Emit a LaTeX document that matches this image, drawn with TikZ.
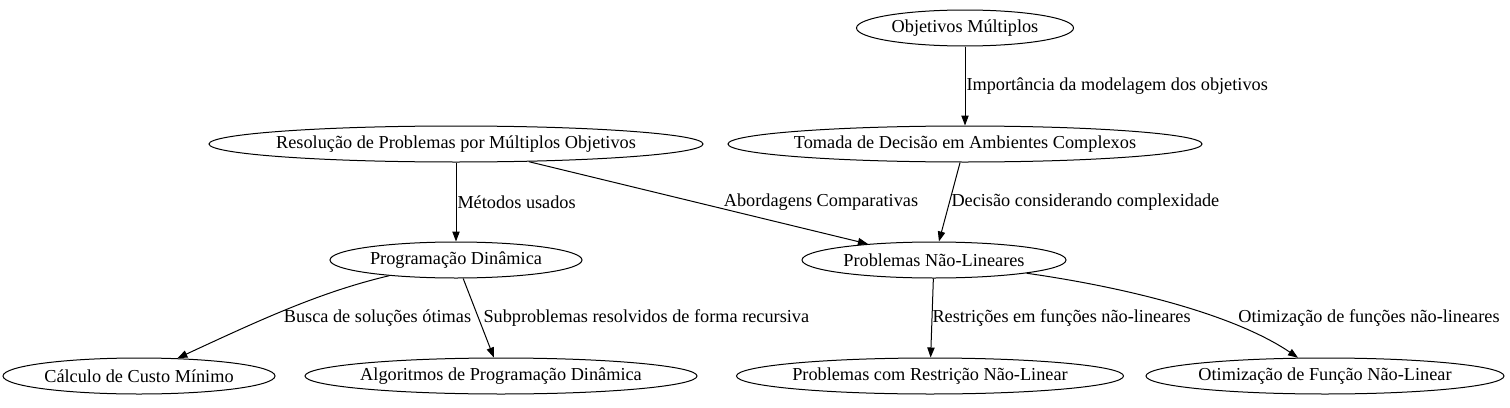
\documentclass[tikz,border=0pt]{standalone}
\usepackage{fontspec}
\setmainfont{Liberation Serif}
\usepackage{tikz}
\usetikzlibrary{shapes.geometric, arrows.meta}
\tikzstyle{topic} = [ellipse, draw=black, inner xsep=-4pt, inner ysep=0pt, minimum height=27pt, text centered]
\tikzstyle{arrow} = [-{Triangle[length=7.5pt,width=5.5pt]}]
\tikzstyle{edgelabel} = [inner sep=0pt, anchor=west]

\begin{document}
\begin{tikzpicture}[x=0.75pt, y=-0.75pt, line width=0.75pt, font=\fontsize{13.7}{16}\selectfont]
            \useasboundingbox (0,0) rectangle (1510,407);

            % Top level
            \node[topic, minimum width=162.75pt] (objetivos) at (965, 28) {Objetivos Múltiplos};

            % Second level
            \node[topic, minimum width=370.5pt] (resolucao) at (456, 144) {Resolução de Problemas por Múltiplos Objetivos};
            \node[topic, minimum width=355.5pt] (tomada) at (965, 144) {Tomada de Decisão em Ambientes Complexos};

            % Third level
            \node[topic, minimum width=189pt] (progdin) at (456, 260) {Programação Dinâmica};
            \node[topic, minimum width=198pt] (naolin) at (934, 260) {Problemas Não-Lineares};

            % Bottom level
            \node[topic, minimum width=204pt] (custo) at (139, 376) {Cálculo de Custo Mínimo};
            \node[topic, minimum width=294pt] (algoritmos) at (501, 376) {Algoritmos de Programação Dinâmica};
            \node[topic, minimum width=290.25pt] (restricao) at (930, 376) {Problemas com Restrição Não-Linear};
            \node[topic, minimum width=268.5pt] (otimizacao) at (1325, 376) {Otimização de Função Não-Linear};

            % Arrows
            \draw[arrow] (objetivos) -- (tomada);
            \draw[arrow] (resolucao) -- (progdin);
            \draw[arrow] (resolucao) -- (naolin);
            \draw[arrow] (tomada) -- (naolin);
            \draw[arrow] (progdin) .. controls (320, 292) and (260, 320) .. (custo);
            \draw[arrow] (progdin) -- (algoritmos);
            \draw[arrow] (naolin) -- (restricao);
            \draw[arrow] (naolin) .. controls (1130, 288) and (1235, 315) .. (otimizacao);

            % Edge labels
            \node[edgelabel] (lbimport) at (966, 86) {Importância da modelagem dos objetivos};
            \node[edgelabel] (lbmetodos) at (457, 202) {Métodos usados};
            \node[edgelabel, anchor=center] (lbabord) at (821, 202) {Abordagens Comparativas};
            \node[edgelabel] (lbdecisao) at (951, 202) {Decisão considerando complexidade};
            \node[edgelabel, anchor=center] (lbbusca) at (377.5, 318) {Busca de soluções ótimas};
            \node[edgelabel] (lbsubprob) at (483, 318) {Subproblemas resolvidos de forma recursiva};
            \node[edgelabel] (lbrestr) at (932, 318) {Restrições em funções não-lineares};
            \node[edgelabel, anchor=center] (lbotim) at (1369, 318) {Otimização de funções não-lineares};
        \end{tikzpicture}
\end{document}
